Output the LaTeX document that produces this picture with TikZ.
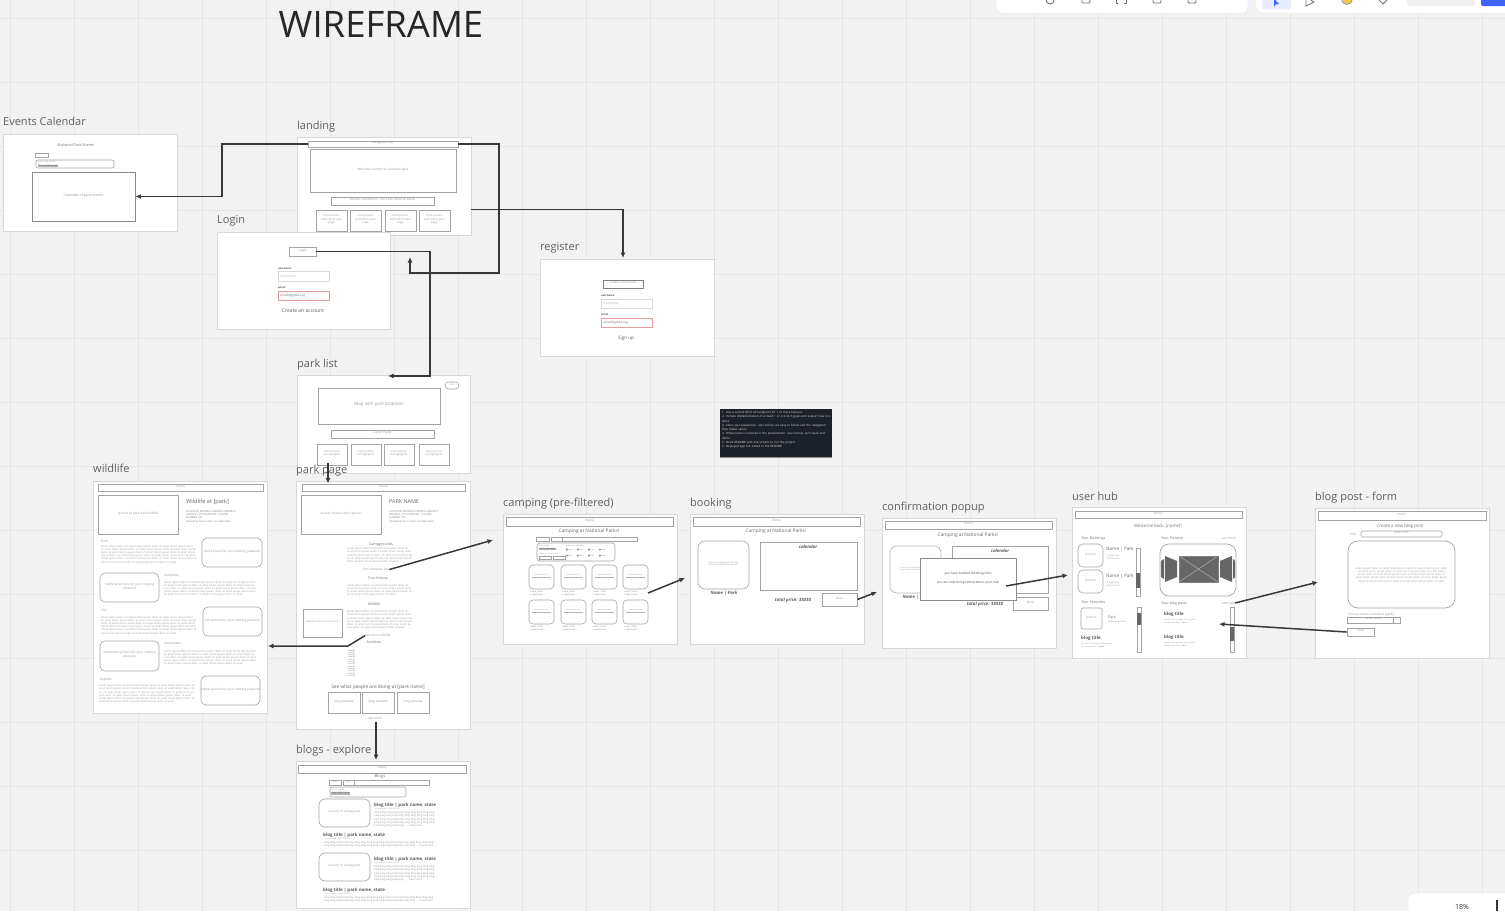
\documentclass[tikz,border=0pt]{standalone}
\usepackage{fontspec}
\setmainfont{Open Sans}
\usetikzlibrary{fit,arrows.meta}
\definecolor{bgc}{HTML}{F2F2F2}
\definecolor{gridc}{HTML}{E6E6E6}
\definecolor{fbd}{HTML}{D8D8D8}
\definecolor{bxc}{HTML}{A3A3A3}
\definecolor{tgc}{HTML}{9A9A9A}
\definecolor{lbc}{HTML}{5E5E5E}
\definecolor{cnc}{HTML}{383838}
\definecolor{rfc}{HTML}{E39B9B}
\definecolor{dkc}{HTML}{1C2029}
\definecolor{thc}{HTML}{666666}
\definecolor{pbl}{HTML}{E8ECFF}
\definecolor{mbl}{HTML}{4262FF}
\definecolor{ylw}{HTML}{F2C94C}
\newcommand\fz[2]{\fontsize{#1}{#2}\selectfont}
\newcommand\Rx[7]{\node[#1, fit={(#3,#4)(#5,#6)}, inner sep=0pt] (#2) {#7};}
\newcommand\reptx[2]{\foreach \i in {1,...,#1}{#2 }}
\newcommand\lrm{lorem ipsum dolor sit amet}
\newcommand\blg{blog blog blog}
\tikzset{
  scr/.style={draw=fbd, fill=white, line width=0.5pt},
  wbox/.style={draw=bxc, line width=0.6pt, font=\fz{3.2}{3.8}, text=tgc, align=center},
  rwbox/.style={wbox, rounded corners=5pt},
  lbl/.style={anchor=base west, inner sep=0pt, font=\fz{11}{13}, text=lbc},
  tx/.style={inner sep=0pt, font=\fz{3.2}{3.8}, text=tgc, align=center},
  hd/.style={inner sep=0pt, font=\fz{3.6}{4.2}, text=black!55},
  mt/.style={inner sep=0pt, font=\fz{4.8}{5.6}, text=black!60},
  blk/.style={inner sep=0pt, font=\fz{2.6}{3.2}, text=black!40, align=left},
  bi/.style={inner sep=0pt, font=\bfseries\itshape\fz{4.4}{5}, text=black!65},
  bt/.style={inner sep=0pt, anchor=west, font=\bfseries\fz{4.4}{5}, text=black!65},
  fl/.style={inner sep=0pt, anchor=base west, font=\bfseries\fz{2.6}{3}, text=black!70},
  hl/.style={inner sep=0.4pt, anchor=west, fill=black!30, font=\fz{2.6}{3}, text=black!70},
  conn/.style={draw=cnc, line width=1.5pt, -{Latex[length=5.5pt,width=5pt]}},
  ico/.style={draw=black!55, line width=0.9pt},
}
\begin{document}
\begin{tikzpicture}[x=1pt,y=-1pt]
\useasboundingbox (0,0) rectangle (1505,911);
\fill[bgc] (0,0) rectangle (1505,911);
\foreach \gx in {10,74,...,1500}{\draw[gridc, line width=0.7pt] (\gx,0) -- (\gx,911);}
\foreach \gy in {18,82,...,911}{\draw[gridc, line width=0.7pt] (0,\gy) -- (1505,\gy);}

% ---------- toolbars ----------
\draw[fill=white, draw=black!10, rounded corners=5pt] (996,-10) rectangle (1248,13);
\draw[ico] (1050,0) circle (4);
\draw[ico, rounded corners=1pt] (1082,-4) rectangle (1090,3);
\draw[ico] (1118,-4) -- (1116,-4) -- (1116,3) -- (1118,3) (1124,-4) -- (1126,-4) -- (1126,3) -- (1124,3);
\draw[ico, rounded corners=1pt] (1153,-4) rectangle (1161,3);
\draw[ico, rounded corners=1pt] (1188,-4) rectangle (1196,3);
\draw[fill=white, draw=black!10, rounded corners=5pt] (1256,-10) rectangle (1515,13);
\fill[pbl, rounded corners=2pt] (1262,-4) rectangle (1291,9);
\fill[mbl] (1274,-1) -- (1279,4) -- (1276,4) -- (1274,7) -- cycle;
\draw[ico] (1306,-3) -- (1314,2) -- (1306,6) -- cycle;
\draw[fill=ylw, draw=black!40, line width=0.8pt] (1347,-1) circle (5.5);
\draw[ico] (1379,0) -- (1383,4) -- (1387,0);
\fill[black!6, rounded corners=2pt] (1407,-4) rectangle (1475,6);
\fill[mbl, rounded corners=2pt] (1481,-4) rectangle (1512,6);
\draw[fill=white, draw=black!10, rounded corners=5pt] (1408,893) rectangle (1520,930);
\node[inner sep=0pt, anchor=base, font=\fz{7}{8}, text=black!80] (zoomp) at (1462,909.5) {18\%};
\draw[black!80, line width=1.2pt] (1497,900) -- (1497,911);

% ---------- title ----------
\node[anchor=base, inner sep=0pt, font=\fz{36.5}{40}, text=black!85] (title) at (381,37) {WIREFRAME};

% ---------- Events Calendar ----------
\Rx{scr}{sEC}{3}{134}{177}{231}{}
\node[tx, font=\fz{3.8}{4.4}, text=black!55] (ecH) at (76,145) {National Park Events};
\Rx{wbox, font=\fz{1.8}{2}}{ecF}{35}{153}{48}{157}{Filter}
\Rx{wbox, rounded corners=2pt}{ecS}{36}{160}{114}{168}{}
\node[tx, anchor=west, font=\fz{2.2}{2.6}] (ecS1) at (38,162.4) {upcoming events};
\node[hl, font=\fz{2.2}{2.6}] (ecS2) at (37.6,165.8) {this month's events};
\Rx{wbox, draw=black!45, line width=0.9pt, font=\fz{3.6}{4}}{ecal}{32}{172}{135}{221}{Calendar of park events}

% ---------- landing ----------
\Rx{scr}{sLand}{297}{137}{471}{235}{}
\Rx{wbox}{lnav}{308}{141}{458}{147}{Navigation bar}
\Rx{wbox}{lban}{310}{149}{456}{192}{Welcome banner w/ featured park}
\Rx{wbox}{lmis}{331}{197}{434}{205}{Mission statement + list of all national parks}
\foreach \x/\n in {316/1,350/2,385/3,419/4}{\Rx{wbox, line width=0.8pt, font=\fz{2.8}{3.4}}{lc\n}{\x}{210}{\x+31}{231}{Park picture\\with link to park\\page}}

% ---------- Login ----------
\Rx{scr}{sLog}{217}{232}{390}{329}{}
\Rx{wbox, line width=0.8pt}{lbtn}{289}{247}{316}{256}{Login}
\node[fl] (lun) at (278,269) {username};
\Rx{wbox, draw=black!15}{luf}{278}{271}{329}{281}{}
\node[tx, anchor=west, text=black!30] (lut) at (280,276) {Username};
\node[fl] (lem) at (278,288.5) {email};
\Rx{wbox, draw=rfc, line width=0.8pt}{lef}{278}{291}{329}{300}{}
\node[tx, anchor=west, text=black!55] (let) at (280,295.5) {email@gmail.org};
\node[tx, font=\fz{5}{6}, text=lbc] (lca) at (303,311) {Create an account};

% ---------- register ----------
\Rx{scr}{sReg}{540}{259}{714}{356}{}
\Rx{wbox, line width=0.9pt, draw=black!50}{rbtn}{603}{280}{643}{288}{Create an account}
\node[fl] (run) at (601,296.5) {username};
\Rx{wbox, draw=black!15}{ruf}{601}{299}{652}{308}{}
\node[tx, anchor=west, text=black!30] (rut) at (603,303.5) {Username};
\node[fl] (rem) at (601,315.5) {email};
\Rx{wbox, draw=rfc, line width=0.8pt}{rff}{601}{318}{652}{327}{}
\node[tx, anchor=west, text=black!55] (ret) at (603,322.5) {email@gmail.org};
\node[tx, font=\fz{4.6}{5.5}, text=lbc] (rsu) at (626,338) {Sign up};

% ---------- park list ----------
\Rx{scr}{sPL}{297}{375}{470}{473}{}
\Rx{wbox, rounded corners=3.5pt, font=\fz{2.2}{2.6}}{plf}{445}{382}{459}{389}{Filter}
\Rx{wbox, line width=0.8pt, font=\fz{4.4}{5}}{plmap}{318}{388}{440}{424}{Map with park locations}
\Rx{wbox, line width=0.8pt}{plbar}{331}{430}{434}{438}{List of Parks}
\foreach \x/\n in {317/1,351/2,384/3,419/4}{\Rx{wbox, line width=0.8pt, font=\fz{2.8}{3.4}}{pc\n}{\x}{444}{\x+30}{465}{Park picture\\w/ highlights}}

% ---------- park page ----------
\Rx{scr}{sPP}{296}{481}{470}{729}{}
\Rx{wbox}{ppnav}{302}{484}{465}{491}{menu}
\Rx{wbox, line width=0.8pt}{pppic}{301}{495}{381}{534}{picture of park with caption}
\node[mt, anchor=west, font=\fz{5.4}{6}] (ppname) at (389,501.5) {PARK NAME};
\node[blk, anchor=north west, text=black!50] (ppinfo) at (389,510) {LOCATION, ADDRESS ADDRESS ADDRESS\\ADDRESS, CITY/STATE/ZIP | PHONE\\NUMBER 123\\[0.8pt]Operating hours: Mon-Sun 8am-6pm};
\node[hd] (ppcg) at (381,544.5) {Campgrounds};
\node[blk, text width=67pt, anchor=north west] (ppcgt) at (347,547.5) {\reptx{9}{\lrm}};
\node[tx] (ppfc) at (376,569.5) {find campsite link};
\node[hd] (pptr) at (378,579) {Tour history};
\node[blk, text width=66pt, anchor=north west] (pptrt) at (347,584) {\reptx{7}{\lrm}};
\node[hd] (ppwl) at (374,604) {Wildlife};
\Rx{wbox, line width=0.8pt, font=\fz{2.4}{3}}{ppwp}{303}{609}{342}{637}{wildlife picture with hyperlink}
\node[blk, text width=68pt, anchor=north west] (ppwlt) at (347,610.5) {\reptx{11}{\lrm}};
\node[tx] (ppsw) at (378,635.5) {see more wildlife};
\node[hd] (ppac) at (374,642) {Activities};
\foreach \k in {0,...,11}{\node[tx, anchor=west, font=\fz{2}{2.3}, text=black!55] (ppa\k) at (347,650.5+\k*2.3) {\textbullet\ activity};}
\node[mt] (ppsee) at (378,687) {See what people are doing at [park name]};
\foreach \x/\n in {328/1,362/2,397/3}{\Rx{wbox, line width=0.8pt}{ppb\n}{\x}{692.5}{\x+32}{713}{blog preview}}
\node[tx] (ppsm) at (375,718.5) {see more};

% ---------- wildlife ----------
\Rx{scr}{sWL}{93}{481}{267}{713}{}
\Rx{wbox}{wlnav}{98}{484}{263}{491}{menu}
\Rx{wbox, line width=0.8pt}{wlpic}{98}{495}{178}{534}{picture of park with wildlife}
\node[mt, anchor=west, font=\fz{5.6}{6}] (wlname) at (186,502) {Wildlife at [park]};
\node[blk, anchor=north west, text=black!50] (wlinfo) at (186,510) {LOCATION, ADDRESS ADDRESS ADDRESS\\ADDRESS, CITY/STATE/ZIP | PHONE\\NUMBER 123\\[0.8pt]Operating hours: Mon-Sun 8am-6pm};
\node[tx, anchor=west] (wlbi) at (101,541) {Birds};
\node[blk, text width=96pt, anchor=north west] (wlbit) at (101,545) {\reptx{16}{\lrm}};
\Rx{rwbox}{wlbp}{202}{538}{262}{567}{bird picture for your viewing pleasure}
\Rx{rwbox}{wlmp}{100}{573}{159}{602}{mammal picture for your viewing pleasure}
\node[tx, anchor=west] (wlma) at (164,575.5) {Mammals};
\node[blk, text width=94pt, anchor=north west] (wlmat) at (164,581) {\reptx{13}{\lrm}};
\node[tx, anchor=west] (wlfi) at (101,610) {Fish};
\node[blk, text width=96pt, anchor=north west] (wlfit) at (101,616) {\reptx{16}{\lrm}};
\Rx{rwbox}{wlfp}{203}{607}{262}{636}{fish picture for your viewing pleasure}
\Rx{rwbox}{wlap}{100}{641}{159}{671}{amphibian picture for your viewing\\pleasure}
\node[tx, anchor=west] (wlam) at (164,644) {Amphibians};
\node[blk, text width=94pt, anchor=north west] (wlamt) at (164,650) {\reptx{13}{\lrm}};
\node[tx, anchor=west] (wlre) at (100,679.5) {Reptiles};
\node[blk, text width=97pt, anchor=north west] (wlret) at (99,684.5) {\reptx{16}{\lrm}};
\Rx{rwbox}{wlrp}{201}{676}{260}{705}{reptile picture for your viewing pleasure}

% ---------- camping ----------
\Rx{scr}{sCP}{503}{514}{677}{644}{}
\Rx{wbox}{cpnav}{506}{517}{673}{526}{menu}
\node[mt] (cph) at (589,531) {Camping at National Parks!};
\Rx{wbox, font=\fz{2}{2.4}}{cpf}{536}{537}{549}{541}{filter}
\Rx{wbox}{cpbar}{551}{537}{637}{541}{}
\Rx{wbox, font=\fz{2}{2.4}}{cpsort}{551}{537}{562}{541}{sort}
\Rx{wbox, rounded corners=3pt}{cppan}{537}{543}{615}{561}{}
\node[tx, anchor=west, font=\fz{2}{2.4}] (cpp1) at (539,546) {date range};
\node[hl, font=\fz{2}{2.4}] (cpp2) at (539,549) {select date range};
\node[tx, anchor=west, font=\fz{2}{2.4}] (cpp3) at (539,554) {check-in / check-out};
\Rx{wbox, line width=0.4pt, font=\fz{2}{2.4}}{cpd1}{539}{556}{551}{559.5}{date}
\Rx{wbox, line width=0.4pt, font=\fz{2}{2.4}}{cpd2}{553}{556}{565}{559.5}{date}
\node[tx, anchor=west, font=\fz{2}{2.4}] (cpam) at (566,545.5) {amenities available};
\foreach \cx [count=\ii] in {566,577,588,599}{\foreach \cy [count=\jj] in {549.5,555.5}{
  \draw[black!55, line width=0.35pt] (\cx+0.8,\cy) circle (0.8);
  \node[tx, anchor=west, font=\fz{2}{2.4}, text=black!50] (cpck\ii\jj) at (\cx+2.2,\cy) {item};}}
\foreach \x [count=\n] in {529,561,592,623}{\foreach \y/\r in {565/a,600/b}{
  \Rx{wbox, rounded corners=4pt}{cc\r\n}{\x}{\y}{\x+25}{\y+24}{}
  \node[tx, font=\fz{1.8}{2}] (ccl\r\n) at (\x+12.5,\y+10.5) {campsite picture};
  \draw[black!30, line width=0.3pt] (\x+3,\y+12.5) -- (\x+22,\y+12.5);
  \node[blk, anchor=north west, font=\fz{2.1}{2.6}, text=black!50] (cct\r\n) at (\x+1,\y+26) {Name | Park\\x nights avail.};}}

% ---------- booking ----------
\Rx{scr}{sBK}{690}{514}{864}{644}{}
\Rx{wbox}{bknav}{693}{517}{860}{526}{menu}
\node[mt] (bkh) at (776,531) {Camping at National Parks!};
\Rx{wbox, rounded corners=7pt}{bkpic}{698}{541}{749}{589}{}
\node[tx, font=\fz{2}{2.6}] (bkpt) at (723.5,564) {picture of campground and site\\information about the campsite};
\node[bi] (bknm) at (724,593) {Name | Park};
\Rx{wbox, line width=0.9pt}{bkcal}{760}{542}{857}{590}{}
\node[bi] (bkcl) at (808,547) {calendar};
\node[bi] (bktp) at (793,600.5) {total price: \$\$\$\$\$};
\Rx{wbox, line width=0.8pt}{bkbtn}{822}{593}{857}{606}{book}

% ---------- confirmation popup ----------
\Rx{scr}{sCF}{882}{518}{1056}{648}{}
\Rx{wbox}{cfnav}{885}{521}{1052}{529}{menu}
\node[mt] (cfh) at (968,535) {Camping at National Parks!};
\Rx{wbox, rounded corners=7pt, draw=black!30}{cfpic}{890}{546}{941}{593}{}
\node[tx, font=\fz{2}{2.6}] (cfpt) at (915.5,569) {picture of campground and site\\information about the campsite};
\node[bi] (cfnm) at (916,597) {Name | Park};
\Rx{wbox, line width=0.9pt}{cfcal}{952}{546}{1048}{593}{}
\node[bi] (cfcl) at (1000,551) {calendar};
\node[bi] (cftp) at (985,604) {total price: \$\$\$\$\$};
\Rx{wbox, line width=0.8pt}{cfbtn}{1013}{597}{1048}{610}{book}
\Rx{wbox, fill=white, draw=black!45, line width=0.8pt}{cfpop}{920}{558}{1016}{600}{}
\node[tx, text=black!70] (cfp1) at (968,574) {you have booked (booking info)};
\node[tx, text=black!70] (cfp2) at (968,582.5) {you are now being redirected to your hub};

% ---------- user hub ----------
\Rx{scr}{sUH}{1072}{507}{1246}{658}{}
\Rx{wbox}{uhnav}{1075}{511}{1242}{518}{menu}
\node[hd, font=\fz{4.4}{5}] (uhw) at (1158,526.5) {Welcome back, [name]!};
\node[hd, anchor=west] (uhyb) at (1081,538.5) {Your Bookings};
\Rx{rwbox}{uhb1}{1078}{544}{1103}{567}{picture}
\node[mt, anchor=west, font=\fz{4.6}{5}] (uhn1) at (1106,549.5) {Name | Park};
\node[blk, anchor=north west, font=\fz{2.2}{3}] (uhi1) at (1107,555) {x night stay\\with [name]};
\Rx{rwbox}{uhb2}{1078}{570}{1103}{593}{picture}
\node[mt, anchor=west, font=\fz{4.6}{5}] (uhn2) at (1106,576) {Name | Park};
\node[blk, anchor=north west, font=\fz{2.2}{3}] (uhi2) at (1107,581.5) {x night stay\\with [name]};
\Rx{wbox, line width=0.5pt}{uhs1}{1136}{548}{1140}{596}{}
\fill[thc] (1136,573) rectangle (1140,588);
\node[hd, anchor=west] (uhyf) at (1081,602) {Your Favorites};
\Rx{wbox, rounded corners=2pt}{uhf}{1081}{608}{1102}{629}{picture}
\node[hd, anchor=west, font=\fz{3.6}{4}] (uhfp) at (1108,617) {Park};
\node[blk, anchor=west, font=\fz{2}{2.4}] (uhfi) at (1108,621.5) {(national park info)};
\Rx{wbox, line width=0.5pt}{uhs2}{1137}{607}{1141}{652}{}
\fill[thc] (1137,613) rectangle (1141,625);
\node[bt] (uhbt1) at (1081,638) {blog title};
\node[blk, anchor=north west, font=\fz{2}{3}] (uhbp1) at (1081,642.5) {preview text preview text preview\\text preview text ... \textbf{read}};
\node[hd, anchor=west] (uhyp) at (1161,538.5) {Your Pictures};
\node[tx, anchor=west] (uhsm) at (1222,538.5) {see more};
\Rx{wbox, rounded corners=9pt, line width=0.7pt}{uhcar}{1160}{544}{1236}{596}{}
\fill[thc] (1165,556) -- (1177,561) -- (1177,577) -- (1165,582) -- cycle;
\fill[thc] (1161,561) -- (1164,559) -- (1164,579) -- (1161,577) -- cycle;
\fill[thc] (1232,556) -- (1220,561) -- (1220,577) -- (1232,582) -- cycle;
\fill[thc] (1235,561) -- (1233,559) -- (1233,579) -- (1235,577) -- cycle;
\fill[thc] (1179,556) rectangle (1218,582);
\draw[black!35, line width=0.6pt] (1179,556) -- (1218,582) (1179,582) -- (1218,556);
\draw[black!50, line width=0.6pt] (1179,556) rectangle (1218,582);
\node[hd, anchor=west] (uhybp) at (1161,603.5) {Your blog posts};
\node[tx, anchor=west] (uhadd) at (1222,603) {add new};
\node[bt] (uhbt2) at (1164,614) {blog title};
\node[blk, anchor=north west, font=\fz{2}{3}] (uhbp2) at (1164,618.5) {preview text preview text preview\\text preview text ... \textbf{read}};
\node[bt] (uhbt3) at (1164,637.5) {blog title};
\node[blk, anchor=north west, font=\fz{2}{3}] (uhbp3) at (1164,642) {preview text preview text preview\\text preview text ... \textbf{read}};
\Rx{wbox, line width=0.5pt}{uhs3}{1230}{607}{1234}{652}{}
\fill[thc] (1230,627) rectangle (1234,641);

% ---------- blog post form ----------
\Rx{scr}{sBF}{1315}{508}{1489}{658}{}
\Rx{wbox}{bfnav}{1318}{511}{1486}{520}{menu}
\node[hd, font=\fz{4.4}{5}] (bfh) at (1400,526) {Create a new blog post};
\node[tx, anchor=west] (bftl) at (1350,534) {title};
\Rx{wbox, rounded corners=1.5pt}{bftf}{1361}{531}{1442}{537}{enter title}
\Rx{wbox, rounded corners=10pt, line width=0.7pt}{bfbody}{1348}{541}{1455}{608}{}
\node[blk, align=center, text width=95pt] (bfbt) at (1401.5,575) {\reptx{13}{\lrm}};
\node[tx, anchor=west] (bfloc) at (1348,614.5) {Choose select a location (park)};
\Rx{wbox, line width=0.7pt}{bfdd}{1347}{617}{1400}{623}{select park}
\Rx{wbox, line width=0.7pt, font=\fz{2.4}{2.6}}{bfdb}{1393}{617}{1400}{623}{v}
\Rx{wbox, line width=0.8pt}{bfpost}{1347}{628}{1374}{636}{Post}

% ---------- blogs explore ----------
\Rx{scr}{sBE}{296}{761}{470}{908}{}
\Rx{wbox}{benav}{298}{765}{466}{773}{menu}
\node[hd, font=\fz{4.2}{5}] (beh) at (380,776.5) {Blogs};
\Rx{wbox, font=\fz{2}{2.4}}{bef}{329}{780}{341}{785}{Filter}
\Rx{wbox}{bebar}{343}{780}{429}{785}{}
\Rx{wbox, font=\fz{2}{2.4}}{besort}{343}{780}{354}{785}{sort}
\Rx{wbox, rounded corners=2pt}{besrch}{330}{787}{406}{797}{}
\node[tx, anchor=west, font=\fz{2}{2.4}] (bes1) at (331,789.5) {search by park};
\node[hl, font=\fz{2.2}{2.6}] (bes2) at (331,793.2) {select park name};
\Rx{rwbox, rounded corners=6pt}{bep1}{319}{799}{370}{827}{picture of a blog post}
\node[bt] (bet1) at (374,805) {blog title | park name, state};
\node[blk, anchor=north west, font=\fz{1.8}{2}] (beby1) at (375,808) {by username | DATE POSTED};
\node[blk, text width=64pt, anchor=north west] (bebb1) at (374,811.5) {\reptx{15}{\blg} ... read more};
\node[bt] (bet2) at (323,835) {blog title | park name, state};
\node[blk, anchor=north west, font=\fz{1.8}{2}] (beby2) at (325,838) {by username | DATE POSTED};
\node[blk, text width=114pt, anchor=north west] (bebb2) at (324,841.5) {\reptx{11}{\blg} ... read more};
\Rx{rwbox, rounded corners=6pt}{bep2}{319}{853}{370}{881}{picture of a blog post}
\node[bt] (bet3) at (374,859) {blog title | park name, state};
\node[blk, anchor=north west, font=\fz{1.8}{2}] (beby3) at (375,862) {by username | DATE POSTED};
\node[blk, text width=64pt, anchor=north west] (bebb3) at (374,865.5) {\reptx{15}{\blg} ... read more};
\node[bt] (bet4) at (323,890) {blog title | park name, state};
\node[blk, anchor=north west, font=\fz{1.8}{2}] (beby4) at (325,893) {by username | DATE POSTED};
\node[blk, text width=114pt, anchor=north west] (bebb4) at (324,896.5) {\reptx{11}{\blg} ... read more};

% ---------- dark note ----------
\Rx{fill=dkc, draw=none}{dark}{720}{409}{832}{457}{}
\draw[black!45, line width=0.8pt] (dark.south west) -- (dark.south east);
\node[blk, anchor=north west, text width=108pt, font=\fz{2.9}{4.3}, text=white!85!black] (dkt) at (722,411) {1. Use a current REST API endpoint for 1 or more features\\2. Include implementation of at least 1 or 2 stretch goals and explain how it is done\\3. Clear user experience: user stories are easy to follow and the navigation flow makes sense\\4. Whole team is involved in the presentation: user stories, tech stack and demo\\5. Good README with instructions to run the project\\6. Deployed app link added to the README};

% ---------- labels ----------
\node[lbl] (tEC) at (3,125.5) {Events Calendar};
\node[lbl] (tLand) at (297,129) {landing};
\node[lbl] (tLog) at (217,223) {Login};
\node[lbl] (tReg) at (540,250) {register};
\node[lbl] (tPL) at (297,367) {park list};
\node[lbl] (tWL) at (93,472) {wildlife};
\node[lbl] (tPP) at (296,473) {park page};
\node[lbl] (tCP) at (503,506) {camping (pre-filtered)};
\node[lbl] (tBK) at (690,506) {booking};
\node[lbl] (tCF) at (882,510) {confirmation popup};
\node[lbl] (tUH) at (1072,500) {user hub};
\node[lbl] (tBF) at (1315,500) {blog post - form};
\node[lbl] (tBE) at (296,753) {blogs - explore};

% ---------- connectors ----------
\coordinate (w1) at (222,170);
\draw[conn] (lnav.west) -| (w1) |- (ecal.east);
\coordinate (w2) at (499,273);
\coordinate (lgt) at (410,257);
\draw[conn] (lnav.east) -| (w2) -| (lgt);
\coordinate (w3) at (430,300);
\coordinate (plt) at (388,376);
\draw[conn] (lbtn.east) -| (w3) |- (plt);
\coordinate (la) at (sLand.east |- lc4.north);
\coordinate (rgt) at (623,258);
\draw[conn] (la) -| (rgt);
\coordinate (pls) at (328,463);
\coordinate (ppt) at (328,483.5);
\draw[conn] (pls) -- (ppt);
\coordinate (cpt) at (493,540);
\draw[conn] (ppfc.east) -- (cpt);
\coordinate (k7) at (348,646);
\coordinate (wlt) at (268,646);
\draw[conn] (ppsw.west) -- (k7) -- (wlt);
\coordinate (bes) at (376,722);
\coordinate (bet) at (376,760);
\draw[conn] (bes) -- (bet);
\coordinate (cpa) at (648,593);
\coordinate (bkt) at (685,578);
\draw[conn] (cpa) -- (bkt);
\coordinate (cft) at (877,592);
\draw[conn] (bkbtn.east) -- (cft);
\coordinate (cfa) at (1006,586);
\coordinate (uht) at (1068,575);
\draw[conn] (cfa) -- (uht);
\coordinate (bft) at (1318,582);
\draw[conn] (uhadd.east) -- (bft);
\coordinate (uhb) at (1219,624);
\draw[conn] (bfpost.west) -- (uhb);
\end{tikzpicture}
\end{document}
